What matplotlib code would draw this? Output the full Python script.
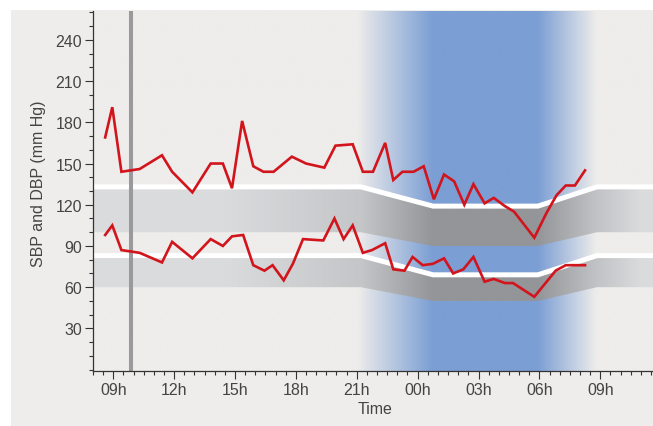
import numpy as np
import matplotlib
matplotlib.use('Agg')
import matplotlib.pyplot as plt
from matplotlib.patches import Polygon, Rectangle
from matplotlib.colors import to_rgb

# data (hours counted from midnight of day 1, so 25h = 01h next day)
sbp_hours = [8.6, 8.95, 9.4, 10.3, 11.4, 11.9, 12.9, 13.8, 14.4, 14.85, 15.35, 15.9, 16.4, 16.9,
             17.8, 18.5, 19.4, 19.95, 20.8, 21.3, 21.8, 22.4, 22.8, 23.25, 23.8, 24.3, 24.8, 25.3,
             25.8, 26.3, 26.75, 27.3, 27.75, 28.3, 28.75, 29.75, 30.35, 30.85, 31.3, 31.75, 32.25]
sbp_values = [169, 191, 144, 146, 156, 144, 129, 150, 150, 132, 181, 148, 144, 144,
              155, 150, 147, 163, 164, 144, 144, 165, 138, 144, 144, 148, 124, 142,
              137, 120, 135, 121, 125, 119, 115, 96, 114, 127, 134, 134, 145]

dbp_hours = [8.6, 8.95, 9.4, 10.3, 11.4, 11.9, 12.9, 13.8, 14.4, 14.85, 15.4, 15.9, 16.45, 16.85,
             17.4, 17.85, 18.35, 19.35, 19.9, 20.35, 20.8, 21.3, 21.75, 22.4, 22.8, 23.35, 23.75,
             24.25, 24.75, 25.3, 25.75, 26.25, 26.75, 27.3, 27.75, 28.3, 28.7, 29.75, 30.8, 31.3, 32.25]
dbp_values = [98, 105, 87, 85, 78, 93, 81, 95, 90, 97, 98, 76, 72, 76,
              65, 77, 95, 94, 110, 95, 105, 85, 87, 92, 73, 72, 82,
              76, 77, 81, 70, 73, 82, 64, 66, 63, 63, 53, 72, 76, 76]

# reference limits: day -> night -> day
limit_hours = [8, 21.2, 24.76, 29.93, 32.84, 35.6]
sbp_upper = [133, 133, 119, 119, 133, 133]
sbp_lower = [100, 100, 90, 90, 100, 100]
dbp_upper = [83, 83, 69, 69, 83, 83]
dbp_lower = [60, 60, 50, 50, 60, 60]

marker_hour = 9.87
xtick_hours = [9, 12, 15, 18, 21, 24, 27, 30, 33]
xtick_labels = ['09h', '12h', '15h', '18h', '21h', '00h', '03h', '06h', '09h']
ytick_values = [30, 60, 90, 120, 150, 180, 210, 240]

# colours
panel_col = '#eeedeb'
blue_col = '#7b9ed4'
band_light = '#dadbdd'
band_dark = '#949598'
red_col = '#d2141c'
text_col = '#444444'

plt.rcParams['font.family'] = ['Liberation Sans', 'DejaVu Sans']

fig = plt.figure(figsize=(6.53, 4.27), dpi=100)
fig.patch.set_facecolor('white')
fig.patches.append(Rectangle((11 / 653, 0), 1, 1 - 11 / 427, transform=fig.transFigure,
                             facecolor=panel_col, edgecolor='none', zorder=-5))

ax = fig.add_axes([93 / 653, 55 / 427, 560 / 653, 360 / 427])
ax.set_facecolor('none')
xmin, xmax = 8, 35.6
ymin, ymax = -1, 261
ax.set_xlim(xmin, xmax)
ax.set_ylim(ymin, ymax)

# night shading (blue, horizontal gradient)
xs = np.linspace(xmin, xmax, 600)
night_alpha = np.interp(xs, [8, 21.0, 24.76, 29.93, 32.84, 35.6], [0, 0, 1, 1, 0, 0])
bg = np.array(to_rgb(panel_col))
bl = np.array(to_rgb(blue_col))
night_img = bg[None, :] * (1 - night_alpha[:, None]) + bl[None, :] * night_alpha[:, None]
ax.imshow(night_img[None, :, :], extent=[xmin, xmax, ymin, ymax], aspect='auto',
          origin='lower', zorder=0.5, interpolation='bilinear')

# grey reference bands, darker during the night
shade = np.interp(xs, [8, 14.5, 21.2, 24.76, 29.93, 32.84, 35.0, 35.6],
                  [0, 0, 0.3, 1, 1, 0.35, 0, 0])
c1 = np.array(to_rgb(band_light))
c2 = np.array(to_rgb(band_dark))
band_img = c1[None, :] * (1 - shade[:, None]) + c2[None, :] * shade[:, None]

for upper, lower in [(sbp_upper, sbp_lower), (dbp_upper, dbp_lower)]:
    verts = np.column_stack([limit_hours + limit_hours[::-1], upper + lower[::-1]])
    clip = Polygon(verts, closed=True, transform=ax.transData)
    im = ax.imshow(band_img[None, :, :], extent=[xmin, xmax, ymin, ymax], aspect='auto',
                   origin='lower', zorder=1, interpolation='bilinear')
    im.set_clip_path(clip)
    ax.plot(limit_hours, upper, color='white', lw=3.6, zorder=2, solid_joinstyle='miter')

# time of the marker
ax.axvline(marker_hour, color='#9a9a9c', lw=2.9, zorder=2.5)

ax.plot(sbp_hours, sbp_values, color=red_col, lw=1.9, zorder=3, solid_joinstyle='miter')
ax.plot(dbp_hours, dbp_values, color=red_col, lw=1.9, zorder=3, solid_joinstyle='miter')

# axes styling
for s in ['top', 'right']:
    ax.spines[s].set_visible(False)
for s in ['left', 'bottom']:
    ax.spines[s].set_color('#333333')
    ax.spines[s].set_linewidth(0.9)
    ax.spines[s].set_zorder(4)

ax.set_xticks(xtick_hours)
ax.set_xticklabels(xtick_labels)
ax.set_xticks(np.arange(8, 35.6, 0.5), minor=True)
ax.set_yticks(ytick_values)
ax.set_yticks(np.arange(0, 261, 10), minor=True)
ax.tick_params(which='major', length=5.8, width=0.8, color='#333333', labelsize=11.5,
               labelcolor=text_col, pad=2)
ax.tick_params(which='minor', length=2.9, width=0.8, color='#333333')

fig.text(39 / 653, 1 - 184 / 427, 'SBP and DBP (mm Hg)', rotation=90, ha='center', va='center',
         fontsize=11.5, color=text_col)
fig.text(375 / 653, 1 - 410 / 427, 'Time', ha='center', va='center', fontsize=11.5, color=text_col)

fig.savefig('out.png', dpi=100, facecolor='white')
